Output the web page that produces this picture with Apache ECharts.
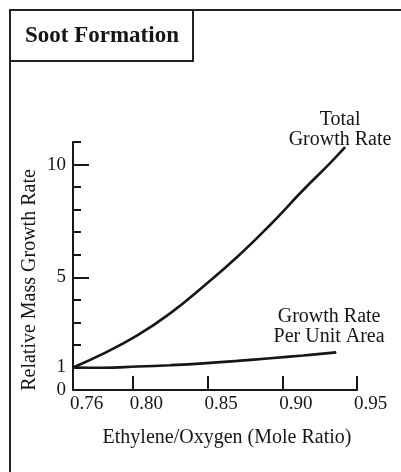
<!DOCTYPE html>
<html><head><meta charset="utf-8">
<script src="https://cdn.jsdelivr.net/npm/echarts@6/dist/echarts.min.js"></script>
<style>html,body{margin:0;padding:0;background:#fff}#c{width:401px;height:472px}</style>
</head><body><div id="c"></div>
<script>
const chartTitle = 'Soot Formation';
const xName = 'Ethylene/Oxygen (Mole Ratio)';
const yName = 'Relative Mass Growth Rate';
const xLabelValues = [0.76, 0.80, 0.85, 0.90, 0.95];
const xTickValues = [0.80, 0.85, 0.90, 0.95];
const yLabelValues = [0, 1, 5, 10];
const yMajorTicks = [5, 10];
const totalRatio = [0.76, 0.780, 0.803, 0.825, 0.847, 0.870, 0.892, 0.914, 0.932, 0.942];
const totalRate  = [1.0, 1.60, 2.42, 3.40, 4.58, 5.91, 7.33, 8.87, 10.06, 10.77];
const areaRatio = [0.76, 0.780, 0.803, 0.825, 0.847, 0.870, 0.892, 0.914, 0.936];
const areaRate  = [1.0, 0.99, 1.04, 1.10, 1.18, 1.29, 1.41, 1.53, 1.67];
const totalLabel = 'Total\nGrowth Rate';
const areaLabel = 'Growth Rate\nPer Unit Area';

const FONT = "'Liberation Serif','DejaVu Serif',serif";
const INK = '#161616';

function pairs(xs, ys, label, off, dist) {
  return xs.map((x, i) => {
    const d = { value: [x, ys[i]] };
    if (i === xs.length - 1) {
      d.label = { show: true, position: 'top', distance: dist, offset: off, formatter: label,
        color: INK, fontFamily: FONT, fontSize: 20, lineHeight: 20, align: 'center' };
    }
    return d;
  });
}

const chart = echarts.init(document.getElementById('c'), null, { renderer: 'canvas' });
chart.setOption({
  backgroundColor: '#fff',
  animation: false,
  title: { text: chartTitle, left: 25, top: 25, padding: 0,
    textStyle: { fontFamily: FONT, fontSize: 23, fontWeight: 'bold', color: INK } },
  graphic: [
    { type: 'polyline', shape: { points: [[10, 472], [10, 10], [401, 10]] },
      style: { stroke: '#222', lineWidth: 2, fill: null } },
    { type: 'rect', shape: { x: 10, y: 10, width: 183, height: 51 },
      style: { stroke: '#222', lineWidth: 2, fill: null } }
  ],
  grid: { left: 73, right: 44, top: 142, bottom: 82, containLabel: false },
  xAxis: {
    type: 'value', min: 0.76, max: 0.95,
    name: xName, nameLocation: 'middle', nameGap: 38, nameMoveOverlap: false,
    nameTextStyle: { fontFamily: FONT, fontSize: 20, color: INK, padding: [0, 0, 0, 24] },
    axisLine: { show: true, onZero: false, lineStyle: { color: INK, width: 2 } },
    axisTick: { show: true, inside: true, length: 14, customValues: xTickValues, lineStyle: { color: INK, width: 2 } },
    axisLabel: { customValues: xLabelValues, formatter: v => v.toFixed(2), align: 'left', margin: 5,
      fontFamily: FONT, fontSize: 19, color: INK, padding: [0, 0, 0, -3] },
    splitLine: { show: false }
  },
  yAxis: [{
    type: 'value', min: 0, max: 11, interval: 1,
    name: yName, nameLocation: 'middle', nameGap: 33, nameMoveOverlap: false,
    nameTextStyle: { fontFamily: FONT, fontSize: 20, color: INK, padding: [0, 28, 0, 0] },
    axisLine: { show: true, onZero: false, lineStyle: { color: INK, width: 2 } },
    axisTick: { show: true, inside: true, length: 8, lineStyle: { color: INK, width: 2 } },
    axisLabel: { customValues: yLabelValues, margin: 7, fontFamily: FONT, fontSize: 19, color: INK },
    splitLine: { show: false }
  }, {
    type: 'value', min: 0, max: 11, position: 'left',
    axisLine: { show: false },
    axisTick: { show: true, inside: true, length: 16, customValues: yMajorTicks, lineStyle: { color: INK, width: 2 } },
    axisLabel: { show: false },
    splitLine: { show: false }
  }],
  series: [{
    type: 'line', yAxisIndex: 0, smooth: 0.45, showSymbol: true, symbol: 'circle', symbolSize: 1,
    itemStyle: { color: INK },
    lineStyle: { color: INK, width: 2.6 },
    data: pairs(totalRatio, totalRate, totalLabel, [-5, 3], 0)
  }, {
    type: 'line', yAxisIndex: 0, smooth: 0.45, showSymbol: true, symbol: 'circle', symbolSize: 1,
    itemStyle: { color: INK },
    lineStyle: { color: INK, width: 2.6 },
    data: pairs(areaRatio, areaRate, areaLabel, [-7, 0], 5)
  }]
});
</script>
</body></html>
